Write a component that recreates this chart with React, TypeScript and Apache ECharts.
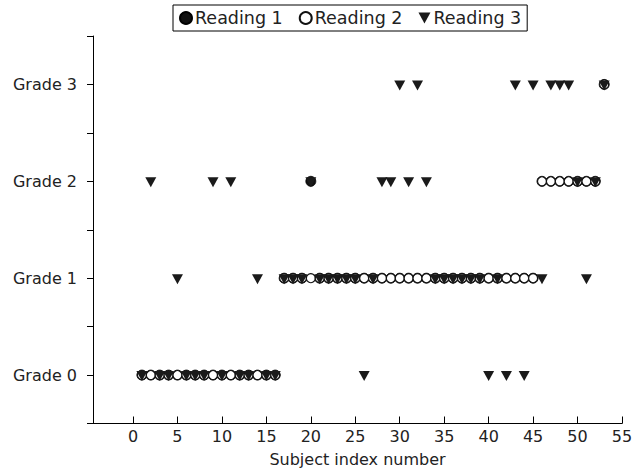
import React, { useEffect, useRef } from "react";
import * as echarts from "echarts";

const subjects = [
  1, 2, 3, 4, 5, 6, 7, 8, 9, 10, 11, 12, 13, 14, 15, 16, 17, 18, 19, 20, 21, 22, 23, 24, 25, 26, 27,
  28, 29, 30, 31, 32, 33, 34, 35, 36, 37, 38, 39, 40, 41, 42, 43, 44, 45, 46, 47, 48, 49, 50, 51, 52, 53,
];
const reading1 = [
  0, 0, 0, 0, 0, 0, 0, 0, 0, 0, 0, 0, 0, 0, 0, 0, 1, 1, 1, 2, 1, 1, 1, 1, 1, 1, 1,
  1, 1, 1, 1, 1, 1, 1, 1, 1, 1, 1, 1, 1, 1, 1, 1, 1, 1, 2, 2, 2, 2, 2, 2, 2, 3,
];
const reading2 = [
  0, 0, 0, 0, 0, 0, 0, 0, 0, 0, 0, 0, 0, 0, 0, 0, 1, 1, 1, 1, 1, 1, 1, 1, 1, 1, 1,
  1, 1, 1, 1, 1, 1, 1, 1, 1, 1, 1, 1, 1, 1, 1, 1, 1, 1, 2, 2, 2, 2, 2, 2, 2, 3,
];
const reading3 = [
  0, 2, 0, 0, 1, 0, 0, 0, 2, 0, 2, 0, 0, 1, 0, 0, 1, 1, 1, 2, 1, 1, 1, 1, 1, 0, 1,
  2, 2, 3, 2, 3, 2, 1, 1, 1, 1, 1, 1, 0, 1, 0, 3, 0, 3, 1, 3, 3, 3, 2, 1, 2, 3,
];
const gradeLabels = ["Grade 0", "Grade 1", "Grade 2", "Grade 3"];
const xTicks = [0, 5, 10, 15, 20, 25, 30, 35, 40, 45, 50, 55];

const FONT = "DejaVu Sans";
const TXT = "#222";

export default function App() {
  const ref = useRef<HTMLDivElement>(null);
  useEffect(() => {
    document.body.style.margin = "0";
    const chart = echarts.init(ref.current!, null, { renderer: "svg" });
    const pairs = (r: number[]) => subjects.map((s, i) => [s, r[i]]);
    const tri = "path://M0,0 L10,0 L5,9 Z";
    chart.setOption({
      animation: false,
      backgroundColor: "#fff",
      textStyle: { fontFamily: FONT, color: TXT },
      legend: {
        left: 173,
        top: 5,
        borderColor: "#000",
        borderWidth: 1,
        borderRadius: 0,
        padding: [4, 6, 4, 6],
        itemGap: 16,
        itemWidth: 12,
        itemHeight: 12,
        textStyle: { fontFamily: FONT, fontSize: 17.5, color: TXT, padding: [0, 0, 0, -2] },
        data: ["Reading 1", "Reading 2", "Reading 3"],
      },
      grid: { left: 93, right: 19, top: 36, bottom: 48.5, containLabel: false, outerBoundsMode: "none" },
      xAxis: {
        type: "value",
        min: -4.5,
        max: 55,
        name: "Subject index number",
        nameLocation: "middle",
        nameGap: 28,
        nameTextStyle: { fontFamily: FONT, fontSize: 16, color: TXT },
        axisLine: { onZero: false, lineStyle: { color: "#000", width: 1 } },
        axisTick: { show: true, inside: true, length: 7, customValues: xTicks, lineStyle: { color: "#000" } },
        axisLabel: { customValues: xTicks, fontFamily: FONT, fontSize: 16, color: TXT, margin: 5 },
        splitLine: { show: false },
      },
      yAxis: {
        type: "value",
        min: -0.5,
        max: 3.5,
        interval: 0.5,
        axisLine: { show: true, onZero: false, lineStyle: { color: "#000", width: 1 } },
        axisTick: { show: true, inside: false, length: 6, lineStyle: { color: "#000" } },
        axisLabel: {
          fontFamily: FONT,
          fontSize: 16,
          color: TXT,
          margin: 16,
          showMinLabel: true,
          showMaxLabel: true,
          formatter: (v: number) => (Number.isInteger(v) && v >= 0 && v <= 3 ? gradeLabels[v] : ""),
        },
        splitLine: { show: false },
      },
      series: [
        {
          name: "Reading 1",
          type: "scatter",
          symbol: "circle",
          symbolSize: 10,
          itemStyle: { color: "#111", borderColor: "#000", borderWidth: 0.8, opacity: 1 },
          data: pairs(reading1),
        },
        {
          name: "Reading 2",
          type: "scatter",
          symbol: "circle",
          symbolSize: 9,
          itemStyle: { color: "#fff", borderColor: "#111", borderWidth: 1.2, opacity: 1 },
          data: pairs(reading2),
        },
        {
          name: "Reading 3",
          type: "scatter",
          symbol: tri,
          symbolSize: [11, 10],
          symbolOffset: [0, 1],
          itemStyle: { color: "#1a1a1a", opacity: 1 },
          data: pairs(reading3),
        },
      ],
    });
    return () => chart.dispose();
  }, []);
  return <div ref={ref} style={{ width: 641, height: 472 }} />;
}
